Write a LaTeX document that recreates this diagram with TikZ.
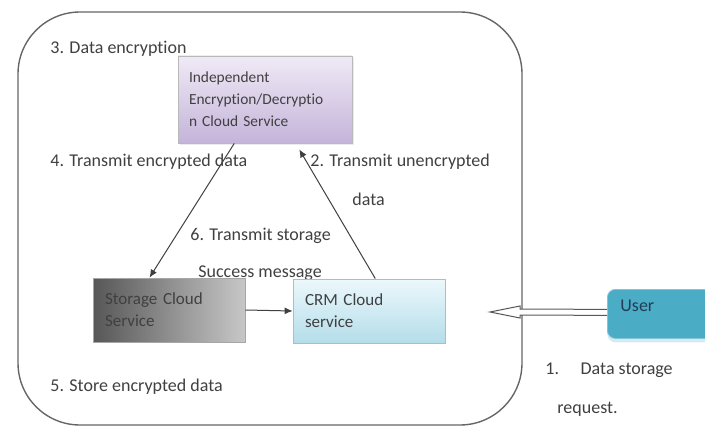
\documentclass[tikz,border=0pt]{standalone}
\usepackage{fontspec}
\setmainfont[Ligatures={NoCommon}]{Carlito}
\usetikzlibrary{arrows.meta,calc,shadows}
\definecolor{enctop}{RGB}{240,234,246}
\definecolor{encbot}{RGB}{196,180,218}
\definecolor{crmtop}{RGB}{236,248,252}
\definecolor{crmbot}{RGB}{180,221,233}
\definecolor{userfill}{RGB}{75,172,198}
\definecolor{usertxt}{RGB}{35,60,85}
\definecolor{txt}{RGB}{64,64,64}

\begin{document}
\begin{tikzpicture}[x=0.5pt,y=-0.5pt,
  font=\fontsize{9}{11}\selectfont,
  box/.style={rectangle,draw=gray!55,text width=#1,align=left,
    inner xsep=6pt,text=txt,font=\fontsize{8.5}{11}\selectfont},
  lbl/.style={anchor=west,inner sep=0pt,text=txt},
  link/.style={draw=txt,line width=0.5pt,-{Latex[length=4pt,width=3.5pt]}}]
\useasboundingbox (0,0) rectangle (705,427);
\draw[gray!80!black,line width=0.7pt,rounded corners=31pt] (18,12) rectangle (522,425);
\node[lbl] (l3) at (50,49)  {3. Data encryption};
\node[lbl] (l4) at (50,162) {4. Transmit encrypted data};
\node[lbl] (l2) at (310,162) {2. Transmit unencrypted};
\node[lbl] (l2b) at (352,199) {data};
\node[lbl] (l6) at (190,236) {6. Transmit storage};
\node[lbl] (l6b) at (198,273) {Success message};
\node[lbl] (l5) at (50,387) {5. Store encrypted data};
\node[lbl] (l1) at (545,370) {1.\hspace{1.2em}Data storage};
\node[lbl] (l1b) at (557,409) {request.};
\node[box=76pt,minimum height=43.5pt,top color=enctop,bottom color=encbot,
  inner xsep=5.5pt,font=\fontsize{7.7}{11}\selectfont,
  drop shadow={opacity=0.15,shadow xshift=1pt,shadow yshift=-1pt}] (enc) at (265,99.5)
  {Independent\\Encryption/Decryptio\\n Cloud Service};
\node[box=64pt,minimum height=32pt,left color=black!66,right color=black!22,
  draw=gray!70] (sto) at (169,310)
  {Storage Cloud\\Service};
\node[box=64pt,minimum height=32pt,top color=crmtop,bottom color=crmbot] (crm) at (369,311)
  {CRM Cloud\\service};
\node[rectangle,rounded corners=4pt,fill=userfill,draw=userfill!70!white,anchor=north west,
  text width=45pt,align=left,inner xsep=6.5pt,inner ysep=3pt,
  text height=8pt,text depth=10.5pt,text=usertxt,
  drop shadow={fill=userfill!40,opacity=0.6,shadow xshift=0pt,shadow yshift=-2pt}] (user) at (607,289) {User};
\coordinate (req) at (490,312);
\draw[link] (enc.235) -- (sto.121);
\draw[link,shorten >=3.5pt] (crm.79) -- (enc.305);
\draw[link] (sto.east) -- (crm.west);
\draw[gray!70!black,line width=0.5pt,fill=white]
  ($(user.west)+(0,-4.5)$) -- ($(req)+(30,-3)$) -- ($(req)+(30,-6)$) -- (req)
  -- ($(req)+(30,6)$) -- ($(req)+(30,3)$) -- ($(user.west)+(0,1.5)$);
\end{tikzpicture}
\end{document}
